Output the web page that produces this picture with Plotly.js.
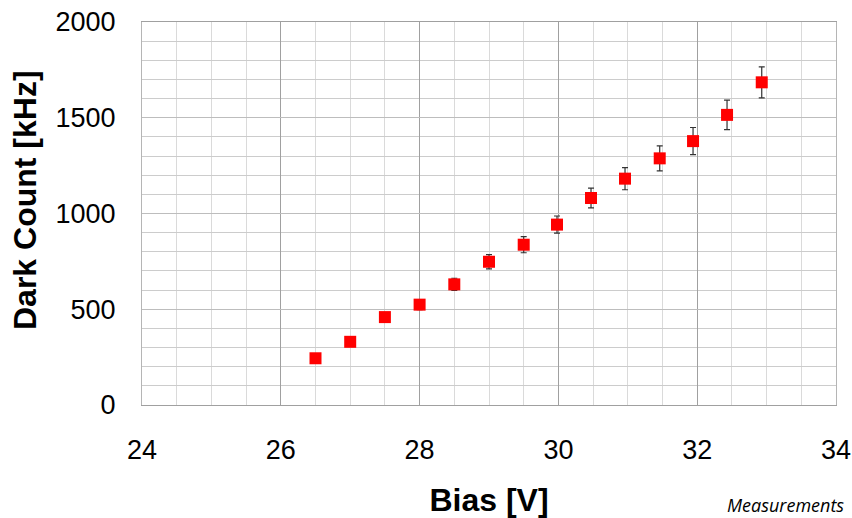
<!DOCTYPE html>
<html>
<head>
<meta charset="utf-8">
<script src="https://cdn.plot.ly/plotly-3.0.1.min.js"></script>
<style>html,body{margin:0;padding:0;background:#fff;}#chart{width:852px;height:518px;}</style>
</head>
<body>
<div id="chart"></div>
<script>
// Data
const biasV = [26.5, 27, 27.5, 28, 28.5, 29, 29.5, 29.98, 30.47, 30.96, 31.46, 31.94, 32.43, 32.93];
const darkCountKHz = [244, 330, 459, 524, 630, 748, 837, 942, 1081, 1182, 1288, 1378, 1515, 1685];
const darkCountErr = [12, 16, 23, 26, 32, 37, 42, 45, 52, 58, 65, 71, 77, 81];
const xTickVals = [24, 26, 28, 30, 32, 34];
const yTickVals = [0, 500, 1000, 1500, 2000];
const xTitle = 'Bias [V]';
const yTitle = 'Dark Count [kHz]';
const noteText = 'Measurements';

const trace = {
  x: biasV,
  y: darkCountKHz,
  type: 'scatter',
  mode: 'markers',
  marker: {symbol: 'square', size: 12, color: '#ff0000', line: {width: 0}},
  error_y: {type: 'data', array: darkCountErr, visible: true, color: '#333333', thickness: 1.2, width: 3},
  showlegend: false,
  hoverinfo: 'x+y'
};

const font = 'Arial, "Liberation Sans", sans-serif';

const layout = {
  width: 852,
  height: 518,
  margin: {l: 142, r: 16, t: 22, b: 113},
  paper_bgcolor: '#ffffff',
  plot_bgcolor: '#ffffff',
  font: {family: font, color: '#000000'},
  xaxis: {
    range: [24, 34],
    tickvals: xTickVals,
    ticktext: xTickVals.map(String),
    tickfont: {size: 27, family: font, color: '#000'},
    ticks: 'outside', ticklen: 21, tickcolor: 'rgba(0,0,0,0)',
    showgrid: true, gridcolor: '#a0a0a0', gridwidth: 1,
    minor: {dtick: 0.5, showgrid: true, gridcolor: '#dadada', gridwidth: 1},
    showline: true, linecolor: '#a0a0a0', linewidth: 1, mirror: true,
    zeroline: false,
    title: {text: xTitle, font: {size: 32, family: font, weight: 'bold', color: '#000'}, standoff: 30},
    automargin: false
  },
  yaxis: {
    range: [0, 2000],
    tickvals: yTickVals,
    ticktext: yTickVals.map(String),
    tickfont: {size: 27, family: font, color: '#000'},
    ticks: 'outside', ticklen: 20, tickcolor: 'rgba(0,0,0,0)',
    showgrid: true, gridcolor: '#bdbdbd', gridwidth: 1,
    minor: {dtick: 100, showgrid: true, gridcolor: '#cccccc', gridwidth: 1},
    showline: true, linecolor: '#b5b5b5', linewidth: 1, mirror: true,
    zeroline: false,
    automargin: false
  },
  annotations: [{
    text: yTitle,
    xref: 'paper', yref: 'paper',
    x: (25 - 142) / 694, y: (405 - 200) / 383,
    xanchor: 'center', yanchor: 'middle',
    textangle: -90,
    showarrow: false,
    font: {size: 32, family: font, weight: 'bold', color: '#000'}
  }, {
    text: noteText,
    xref: 'paper', yref: 'paper',
    x: (725 - 142) / 694, y: -(491 - 405) / 383,
    xanchor: 'left', yanchor: 'top',
    showarrow: false,
    font: {size: 18, family: '"Open Sans", "DejaVu Sans", sans-serif', style: 'italic', color: '#000'}
  }]
};

Plotly.newPlot('chart', [trace], layout, {displayModeBar: false, staticPlot: true});
</script>
</body>
</html>
